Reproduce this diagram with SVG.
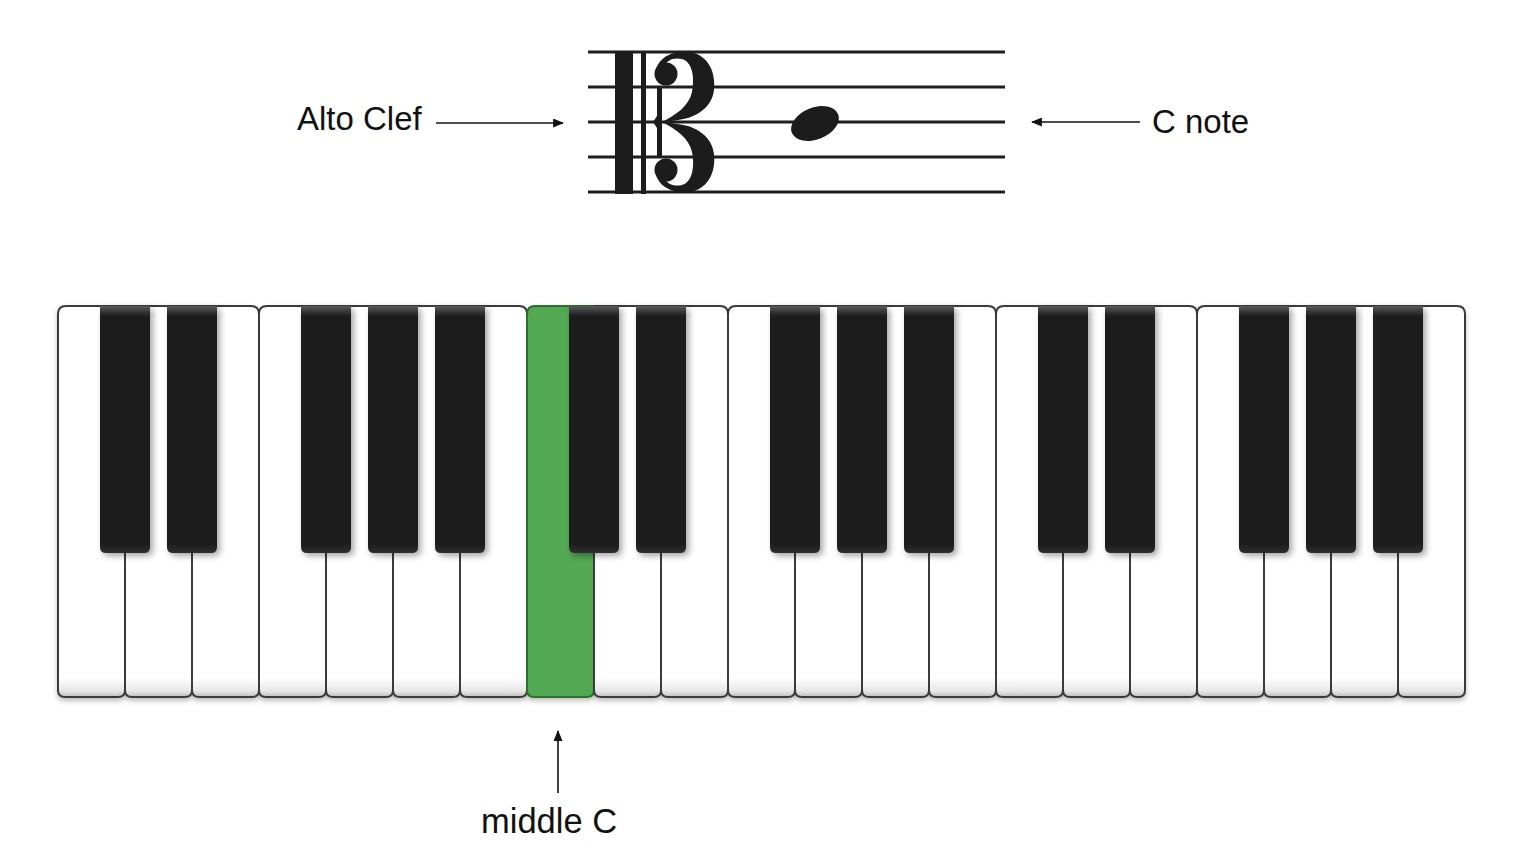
<svg xmlns="http://www.w3.org/2000/svg" xmlns:xlink="http://www.w3.org/1999/xlink" width="1522" height="866" viewBox="0 0 1522 866">
<style>
.lbl{font-family:"Liberation Sans",Arial,sans-serif;font-size:33px;fill:#111}
.staff{stroke:#1e1e1e;stroke-width:3}
.wk{fill:url(#wg);stroke:#3a3a3a;stroke-width:2}
.conn{stroke:#111;stroke-width:1.6;fill:none}
.ink{fill:#1c1c1c}
</style>
<defs>
<linearGradient id="wg" x1="0" y1="0" x2="0" y2="1">
<stop offset="0" stop-color="#ffffff"/>
<stop offset="0.95" stop-color="#ffffff"/>
<stop offset="0.985" stop-color="#e6e6e6"/>
<stop offset="1" stop-color="#bdbdbd"/>
</linearGradient>
<linearGradient id="bg" x1="0" y1="0" x2="0" y2="1">
<stop offset="0" stop-color="#5a5a5a"/>
<stop offset="0.04" stop-color="#1e1e1e"/>
<stop offset="0.96" stop-color="#1c1c1c"/>
<stop offset="1" stop-color="#2e2e2e"/>
</linearGradient>
<filter id="sh" x="-30%" y="-10%" width="160%" height="120%">
<feDropShadow dx="3" dy="3" stdDeviation="3" flood-color="#000" flood-opacity="0.35"/>
</filter>
<filter id="ksh" x="-5%" y="-5%" width="110%" height="115%">
<feDropShadow dx="0" dy="3" stdDeviation="2.5" flood-color="#000" flood-opacity="0.25"/>
</filter>
<path id="bk" d="M0,306 H50 V547 Q50,553 44,553 H6 Q0,553 0,547 Z" fill="url(#bg)"/>
<path id="clefhalf" d="M656,70 C659,56 675,50 690,52 C708,55 716,72 714,90 C712,106 700,114 688,118 C680,120 672,121 662,122 C676,115 689,106 692,92 C695,76 692,62 682,59 C674,57 666,60 663,68 Z"/>
<marker id="ah" viewBox="0 0 12 10" refX="11" refY="5" markerWidth="12" markerHeight="9" markerUnits="userSpaceOnUse" orient="auto">
<path d="M0,0 L12,5 L0,10 Z" fill="#111"/>
</marker>
</defs>
<rect width="1522" height="866" fill="#ffffff"/>

<g id="staff">
<line class="staff" x1="588" y1="52" x2="1005" y2="52"/>
<line class="staff" x1="588" y1="87" x2="1005" y2="87"/>
<line class="staff" x1="588" y1="122" x2="1005" y2="122"/>
<line class="staff" x1="588" y1="157" x2="1005" y2="157"/>
<line class="staff" x1="588" y1="192" x2="1005" y2="192"/>
</g>

<g id="alto-clef" class="ink">
<rect x="615" y="51" width="18" height="143"/>
<rect x="641" y="51" width="5" height="143"/>
<path d="M657,88 H662 V156 H657 V128 L653,122 L657,116 Z"/>
<circle cx="666" cy="74" r="11.5"/>
<use href="#clefhalf" xlink:href="#clefhalf"/>
<g transform="translate(0,244) scale(1,-1)">
<circle cx="666" cy="74" r="11.5"/>
<use href="#clefhalf" xlink:href="#clefhalf"/>
</g>
</g>

<g id="c-note">
<ellipse class="ink" cx="815" cy="123.5" rx="25" ry="16" transform="rotate(-22 815 123.5)"/>
</g>

<g id="label-alto-clef"><text class="lbl" x="297" y="130">Alto Clef</text></g>
<g id="label-c-note"><text class="lbl" x="1152" y="133">C note</text></g>
<g id="label-middle-c"><text class="lbl" x="481" y="833" style="font-size:34.5px">middle C</text></g>

<g id="keyboard">
<g id="white-keys" filter="url(#ksh)">
<path id="wk0" class="wk" d="M58,314 Q58,306 66,306 H125 V690 Q125,697 118,697 H65 Q58,697 58,690 Z"/>
<path id="wk1" class="wk" d="M125,306 H192 V690 Q192,697 185,697 H132 Q125,697 125,690 Z"/>
<path id="wk2" class="wk" d="M192,306 H251 Q259,306 259,314 V690 Q259,697 252,697 H199 Q192,697 192,690 Z"/>
<path id="wk3" class="wk" d="M259,314 Q259,306 267,306 H326 V690 Q326,697 319,697 H266 Q259,697 259,690 Z"/>
<path id="wk4" class="wk" d="M326,306 H393 V690 Q393,697 386,697 H333 Q326,697 326,690 Z"/>
<path id="wk5" class="wk" d="M393,306 H460 V690 Q460,697 453,697 H400 Q393,697 393,690 Z"/>
<path id="wk6" class="wk" d="M460,306 H519 Q527,306 527,314 V690 Q527,697 520,697 H467 Q460,697 460,690 Z"/>
<path id="wk7-middle-c" d="M527,314 Q527,306 535,306 H594 V690 Q594,697 587,697 H534 Q527,697 527,690 Z" fill="#52a852" stroke="#2f6e2f" stroke-width="2"/>
<path id="wk8" class="wk" d="M594,306 H661 V690 Q661,697 654,697 H601 Q594,697 594,690 Z"/>
<path id="wk9" class="wk" d="M661,306 H720 Q728,306 728,314 V690 Q728,697 721,697 H668 Q661,697 661,690 Z"/>
<path id="wk10" class="wk" d="M728,314 Q728,306 736,306 H795 V690 Q795,697 788,697 H735 Q728,697 728,690 Z"/>
<path id="wk11" class="wk" d="M795,306 H862 V690 Q862,697 855,697 H802 Q795,697 795,690 Z"/>
<path id="wk12" class="wk" d="M862,306 H929 V690 Q929,697 922,697 H869 Q862,697 862,690 Z"/>
<path id="wk13" class="wk" d="M929,306 H988 Q996,306 996,314 V690 Q996,697 989,697 H936 Q929,697 929,690 Z"/>
<path id="wk14" class="wk" d="M996,314 Q996,306 1004,306 H1063 V690 Q1063,697 1056,697 H1003 Q996,697 996,690 Z"/>
<path id="wk15" class="wk" d="M1063,306 H1130 V690 Q1130,697 1123,697 H1070 Q1063,697 1063,690 Z"/>
<path id="wk16" class="wk" d="M1130,306 H1189 Q1197,306 1197,314 V690 Q1197,697 1190,697 H1137 Q1130,697 1130,690 Z"/>
<path id="wk17" class="wk" d="M1197,314 Q1197,306 1205,306 H1264 V690 Q1264,697 1257,697 H1204 Q1197,697 1197,690 Z"/>
<path id="wk18" class="wk" d="M1264,306 H1331 V690 Q1331,697 1324,697 H1271 Q1264,697 1264,690 Z"/>
<path id="wk19" class="wk" d="M1331,306 H1398 V690 Q1398,697 1391,697 H1338 Q1331,697 1331,690 Z"/>
<path id="wk20" class="wk" d="M1398,306 H1457 Q1465,306 1465,314 V690 Q1465,697 1458,697 H1405 Q1398,697 1398,690 Z"/>
</g>
<g id="black-keys" filter="url(#sh)">
<use id="bk0" href="#bk" xlink:href="#bk" x="100"/>
<use id="bk1" href="#bk" xlink:href="#bk" x="167"/>
<use id="bk2" href="#bk" xlink:href="#bk" x="301"/>
<use id="bk3" href="#bk" xlink:href="#bk" x="368"/>
<use id="bk4" href="#bk" xlink:href="#bk" x="435"/>
<use id="bk5" href="#bk" xlink:href="#bk" x="569"/>
<use id="bk6" href="#bk" xlink:href="#bk" x="636"/>
<use id="bk7" href="#bk" xlink:href="#bk" x="770"/>
<use id="bk8" href="#bk" xlink:href="#bk" x="837"/>
<use id="bk9" href="#bk" xlink:href="#bk" x="904"/>
<use id="bk10" href="#bk" xlink:href="#bk" x="1038"/>
<use id="bk11" href="#bk" xlink:href="#bk" x="1105"/>
<use id="bk12" href="#bk" xlink:href="#bk" x="1239"/>
<use id="bk13" href="#bk" xlink:href="#bk" x="1306"/>
<use id="bk14" href="#bk" xlink:href="#bk" x="1373"/>
</g>
</g>

<g id="connectors">
<line class="conn" x1="436" y1="123" x2="563" y2="123" marker-end="url(#ah)"/>
<line class="conn" x1="1140" y1="122" x2="1032" y2="122" marker-end="url(#ah)"/>
<line class="conn" x1="558" y1="793" x2="558" y2="731" marker-end="url(#ah)"/>
</g>
</svg>
